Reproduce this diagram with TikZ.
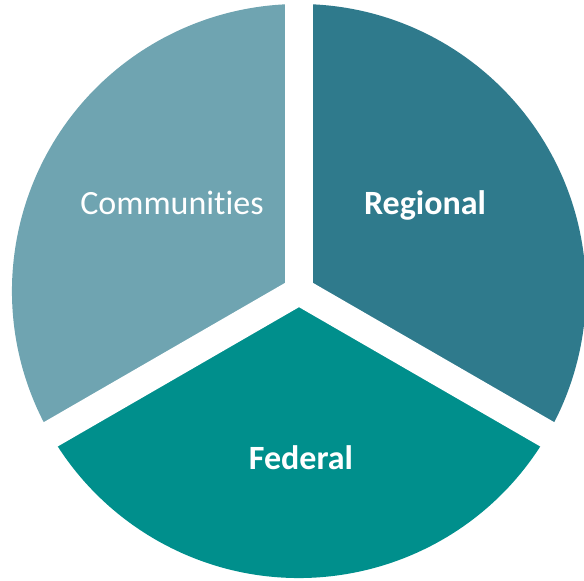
\documentclass[tikz,border=0pt]{standalone}
\usepackage{fontspec}
\setmainfont{Carlito}[Ligatures=NoCommon]
\definecolor{commc}{HTML}{6FA4B1}
\definecolor{regc}{HTML}{2F7A8C}
\definecolor{fedc}{HTML}{008F8C}
\begin{document}
\begin{tikzpicture}[x=1pt,y=1pt,
  lbl/.style={text=white, font=\fontsize{34}{40}\selectfont, anchor=base, inner sep=0pt},
  gapline/.style={white, line width=28pt}]
\useasboundingbox (0,0) rectangle (584,581);
\begin{scope}[shift={(299,290)}]
  \fill[regc] (0,0) -- (90:287) arc[start angle=90, end angle=-30, radius=287] -- cycle;
  \fill[fedc] (0,0) -- (-30:287) arc[start angle=-30, end angle=-150, radius=287] -- cycle;
  \fill[commc] (0,0) -- (210:287) arc[start angle=210, end angle=90, radius=287] -- cycle;
  \coordinate (c) at (0,0);
  \coordinate (g1) at (90:310);
  \coordinate (g2) at (210:310);
  \coordinate (g3) at (330:310);
  \draw[gapline] (c) -- (g1);
  \draw[gapline] (c) -- (g2);
  \draw[gapline] (c) -- (g3);
\end{scope}
\node[lbl] (comm) at (172,366) {Communities};
\node[lbl] (reg) at (425,366) {\bfseries Regional};
\node[lbl] (fed) at (301,111) {\bfseries Federal};
\end{tikzpicture}
\end{document}
